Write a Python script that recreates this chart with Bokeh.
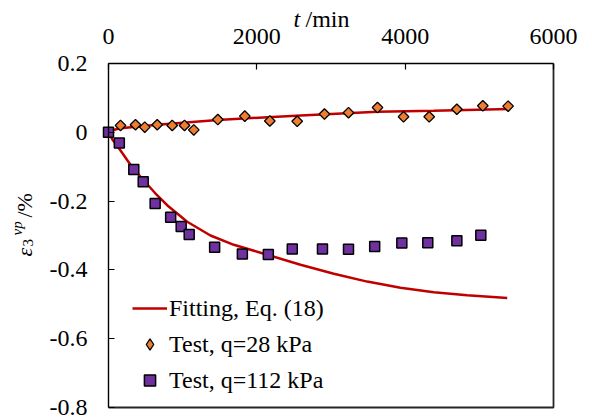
import numpy as np
from bokeh.plotting import figure
from bokeh.models import Legend, LegendItem, Label, FixedTicker, Range1d
from bokeh.embed import file_html
from bokeh.resources import INLINE

# ---------------- data ----------------
x_ticks = [0, 2000, 4000, 6000]
x_tick_labels = ["0", "2000", "4000", "6000"]
y_ticks = [-0.8, -0.6, -0.4, -0.2, 0, 0.2]
y_tick_labels = ["-0.8", "-0.6", "-0.4", "-0.2", "0", "0.2"]
X_MIN, X_MAX = 0, 6000
Y_MIN, Y_MAX = -0.8, 0.2

# Test, q = 28 kPa (diamonds)
t28 = [162, 364, 489, 657, 859, 1025, 1150, 1474, 1838, 2175, 2544, 2912, 3236,
       3627, 3978, 4324, 4697, 5047, 5388]
e28 = [0.020, 0.022, 0.015, 0.022, 0.020, 0.020, 0.007, 0.037, 0.047, 0.033,
       0.032, 0.053, 0.057, 0.072, 0.045, 0.045, 0.067, 0.077, 0.076]

# Test, q = 112 kPa (squares)
t112 = [0, 146, 341, 468, 629, 838, 980, 1088, 1431, 1805, 2155, 2478, 2885,
        3236, 3589, 3955, 4305, 4697, 5020]
e112 = [0.0, -0.031, -0.108, -0.144, -0.207, -0.247, -0.274, -0.297, -0.334,
        -0.354, -0.355, -0.339, -0.339, -0.340, -0.332, -0.322, -0.321, -0.315,
        -0.299]

# Fitting, Eq. (18)
fit28_t = [0, 50, 162, 657, 1474, 2589, 3627, 4386, 5398]
fit28_e = [0.0, 0.006, 0.012, 0.022, 0.036, 0.049, 0.060, 0.063, 0.068]
fit112_t = [0, 50, 162, 341, 476, 634, 791, 1061, 1375, 1690, 2049, 2589, 3038,
            3488, 3937, 4386, 4836, 5376]
fit112_e = [0.0, -0.020, -0.053, -0.108, -0.140, -0.178, -0.212, -0.260, -0.300,
            -0.327, -0.350, -0.385, -0.411, -0.434, -0.452, -0.465, -0.474, -0.482]

# ---------------- layout / style ----------------
FONT = "Liberation Serif, Times New Roman, serif"
FS = "24px"
RED = "#C00000"
ORANGE = "#ED7D31"
PURPLE = "#7030A0"

W, H = 592, 419
# plot box in canvas pixels
BOX_L, BOX_R, BOX_T, BOX_B = 108, 553, 63, 407
kx = (BOX_R - BOX_L) / (X_MAX - X_MIN)
ky = (BOX_B - BOX_T) / (Y_MAX - Y_MIN)
x_range = Range1d(X_MIN - BOX_L / kx, X_MAX + (W - BOX_R) / kx)
y_range = Range1d(Y_MIN - (H - BOX_B) / ky, Y_MAX + BOX_T / ky)

p = figure(width=W, height=H, output_backend="svg", toolbar_location=None,
           x_range=x_range, y_range=y_range, x_axis_location="above",
           min_border=0)
p.grid.visible = False
p.outline_line_color = None

# right and bottom sides of the plot box (at the axis limits)
p.line([X_MAX, X_MAX, X_MIN], [Y_MAX, Y_MIN, Y_MIN], line_color="#262626",
       line_width=1.8)

xa = p.xaxis[0]
xa.fixed_location = Y_MAX
xa.bounds = (X_MIN, X_MAX)
xa.ticker = FixedTicker(ticks=x_ticks)
xa.major_label_overrides = dict(zip(x_ticks, x_tick_labels))
ya = p.yaxis[0]
ya.fixed_location = X_MIN
ya.bounds = (Y_MIN, Y_MAX)
ya.ticker = FixedTicker(ticks=y_ticks)
ya.major_label_overrides = dict(zip(y_ticks, y_tick_labels))
for ax in (xa, ya):
    ax.major_tick_in = 6
    ax.major_tick_out = 0
    ax.minor_tick_line_color = None
    ax.axis_line_color = "black"
    ax.axis_line_width = 1.4
    ax.major_tick_line_color = "black"
    ax.major_tick_line_width = 1.2
    ax.major_label_text_font = FONT
    ax.major_label_text_font_size = FS
    ax.major_label_text_color = "black"
xa.major_label_standoff = 20
ya.major_label_standoff = 21

l112 = p.line(fit112_t, fit112_e, line_color=RED, line_width=2.5)
l28 = p.line(fit28_t, fit28_e, line_color=RED, line_width=2.5)
dm = p.scatter(t28, e28, marker="square", angle=np.pi / 4, size=7.5,
               fill_color=ORANGE, line_color="black", line_width=1.3)
sq = p.scatter(t112, e112, marker="square", size=10, fill_color=PURPLE,
               line_color="black", line_width=1.5)
# legend swatch for the diamonds (legend glyphs are never rotated)
dm_key = p.scatter(t28, e28, marker="diamond", size=12, fill_color=ORANGE,
                   line_color="black", line_width=1.3, visible=False)

legend = Legend(items=[
    LegendItem(label="Fitting, Eq. (18)", renderers=[l112]),
    LegendItem(label="Test, q=28 kPa", renderers=[dm_key]),
    LegendItem(label="Test, q=112 kPa", renderers=[sq]),
], location=(132, H - 394), orientation="vertical",
    glyph_width=35, glyph_height=28, label_height=28, spacing=8,
    label_standoff=2, padding=0, margin=0,
    border_line_alpha=0, background_fill_alpha=0, inactive_fill_alpha=0,
    label_text_font=FONT, label_text_font_size=FS, label_text_color="black")
p.add_layout(legend)


# text pieces, screen units from the canvas' bottom-left corner
def lab(text, x, y, size, style="normal", angle=0.0):
    p.add_layout(Label(x=x, y=H - y, x_units="screen", y_units="screen",
                       text=text, angle=angle, text_font=FONT,
                       text_font_size=size, text_font_style=style,
                       text_color="black", text_align="left",
                       text_baseline="alphabetic"))

lab("t", 293, 18, FS, "italic")
lab("/min", 305, 18, FS)

A = np.pi / 2
lab("ε", 24, 256, "22px", "italic", A)
lab("3", 27, 246, "15px", "normal", A)
lab("vp", 16, 235, "15px", "italic", A)
lab("/%", 24, 217, "22px", "normal", A)

open("out.html", "w").write(file_html(p, INLINE))
